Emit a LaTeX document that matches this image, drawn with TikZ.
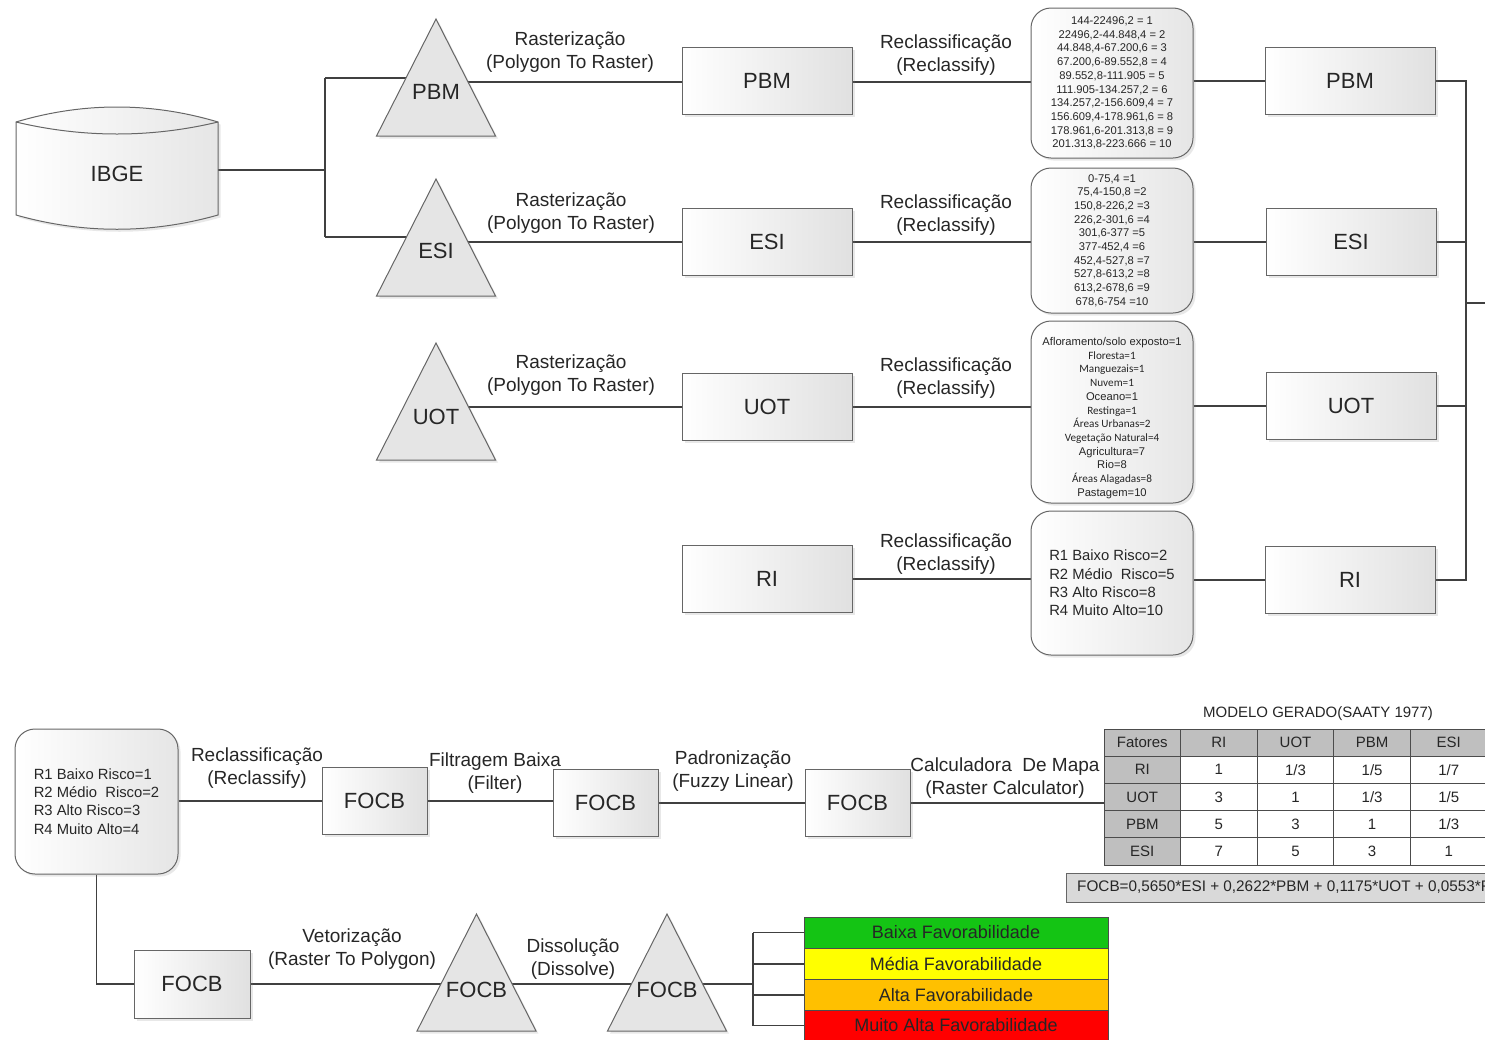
\documentclass[tikz,border=0pt]{standalone}
\usepackage{fontspec}
\setmainfont{Liberation Sans}
\newfontfamily\carl{Carlito}
\usetikzlibrary{shadows,backgrounds}
\definecolor{lgreen}{RGB}{20,196,20}
\definecolor{lyellow}{RGB}{255,255,0}
\definecolor{lorange}{RGB}{255,192,0}
\definecolor{lred}{RGB}{255,0,0}
\begin{document}
\begin{tikzpicture}[x=1pt,y=-1pt,
  dshadow/.style={drop shadow={shadow xshift=2.5pt,shadow yshift=-2.5pt,opacity=0.18}},
  line/.style={draw=black!75,line width=1.1pt},
  box/.style={draw=black!60,line width=1pt,left color=white,right color=black!12,dshadow,
    minimum width=170pt,minimum height=67pt,inner sep=0pt,font=\fontsize{22}{26}\selectfont,text=black!85},
  fbox/.style={box,minimum width=105pt},
  rnd/.style={draw=black!60,line width=1pt,rounded corners=20pt,left color=white,right color=black!10,
    dshadow,inner sep=0pt,align=center,text=black!85},
  small/.style={font=\fontsize{11.2}{13.7}\selectfont},
  mid/.style={font=\fontsize{14.8}{18.3}\selectfont},
  tri/.style={draw=black!60,line width=1pt,fill=black!10,dshadow},
  cyl/.style={draw=black!60,line width=1pt,left color=white,right color=black!10,dshadow},
  lbl/.style={align=center,font=\fontsize{19}{23}\selectfont,text=black!85,inner sep=0pt,yshift=-3pt},
  big/.style={font=\fontsize{22}{26}\selectfont,text=black!85,inner sep=0pt},
  hd/.style={draw=black!70,line width=0.9pt,fill=black!25,minimum width=76.6pt,minimum height=27.2pt,
    inner sep=0pt,font=\fontsize{15}{18}\selectfont,text=black!85},
  bd/.style={hd,fill=white},
  lg/.style={draw=black!70,line width=0.9pt,minimum width=304pt,minimum height=31pt,inner sep=0pt,
    font=\fontsize{18}{21}\selectfont,text=black!85},
]
\useasboundingbox (0,0) rectangle (1485,1039);
\clip (0,0) rectangle (1485,1039);

% ---------- IBGE cylinder ----------
\path[cyl] (16,122) .. controls (83,102) and (151,102) .. (218,122) -- (218,215)
  .. controls (151,234) and (83,234) .. (16,215) -- cycle;
\draw[draw=black!60,line width=1pt] (16,122) .. controls (83,138) and (151,138) .. (218,122);
\node[big] (ibge) at (117,174) {IBGE};
\coordinate (ibgeE) at (218,170);
\coordinate (lj) at (325,170);
\coordinate (ljt) at (325,78);
\coordinate (ljb) at (325,237);

% ---------- triangles ----------
\newcommand\mytri[2]{\path[tri] (#1,#2) -- ++(-59.5,117) -- ++(119,0) -- cycle;}
\mytri{436}{19}
\mytri{436}{179}
\mytri{436}{343}
\mytri{476.5}{914}
\mytri{667}{914}
\node[big] (tPBM) at (436,92) {PBM};
\node[big] (tESI) at (436,251) {ESI};
\node[big] (tUOT) at (436,417) {UOT};
\node[big] (tF1) at (476.5,990) {FOCB};
\node[big] (tF2) at (667,990) {FOCB};
\coordinate (tPBMl) at (436,78);
\coordinate (tPBMr) at (436,82);
\coordinate (tESIl) at (436,237);
\coordinate (tESIr) at (436,242);
\coordinate (tUOTr) at (436,407);
\coordinate (tF1c) at (476.5,984);
\coordinate (tF2c) at (667,984);

% ---------- boxes ----------
\node[box] (bPBM) at (767,81) {PBM};
\node[box] (bESI) at (767,242) {ESI};
\node[box] (bUOT) at (767,407) {UOT};
\node[box] (bRI) at (767,579) {RI};

\node[box] (rbPBM) at (1350,81) {PBM};
\node[box] (rbESI) at (1351,242) {ESI};
\node[box] (rbUOT) at (1351,406) {UOT};
\node[box] (rbRI) at (1350,580) {RI};

\node[rnd,small,minimum width=162pt,minimum height=150pt] (rPBM) at (1112,83)
 {144-22496,2 = 1\\22496,2-44.848,4 = 2\\44.848,4-67.200,6 = 3\\67.200,6-89.552,8 = 4\\89.552,8-111.905 = 5\\111.905-134.257,2 = 6\\134.257,2-156.609,4 = 7\\156.609,4-178.961,6 = 8\\178.961,6-201.313,8 = 9\\201.313,8-223.666 = 10};
\node[rnd,small,minimum width=162pt,minimum height=145pt] (rESI) at (1112,240.5)
 {0-75,4 =1\\75,4-150,8 =2\\150,8-226,2 =3\\226,2-301,6 =4\\301,6-377 =5\\377-452,4 =6\\452,4-527,8 =7\\527,8-613,2 =8\\613,2-678,6 =9\\678,6-754 =10};
\node[rnd,minimum width=162pt,minimum height=182pt] (rUOT) at (1112,412) {};
\node[small,align=center,inner sep=0pt,text=black!85] (rUOTt) at (1112,418)
 {Afloramento/solo exposto=1\\{\carl Floresta=1}\\{\carl Manguezais=1}\\{\carl Nuvem=1}\\Oceano=1\\{\carl Restinga=1}\\{\carl Áreas Urbanas=2}\\{\carl Vegetação Natural=4}\\Agricultura=7\\Rio=8\\{\carl Áreas Alagadas=8}\\Pastagem=10};
\node[rnd,mid,align=left,minimum width=162pt,minimum height=144pt] (rRI) at (1112,583)
 {R1 Baixo Risco=2\\R2 Médio\ \ Risco=5\\R3 Alto Risco=8\\R4 Muito Alto=10};

% ---------- bottom chain ----------
\node[rnd,mid,align=left,minimum width=163pt,minimum height=145pt] (rBot) at (96.5,801.5)
 {R1 Baixo Risco=1\\R2 Médio\ \ Risco=2\\R3 Alto Risco=3\\R4 Muito Alto=4};
\node[fbox] (fb1) at (374.5,801) {FOCB};
\node[fbox] (fb2) at (605.5,803) {FOCB};
\node[fbox] (fb3) at (857.5,803) {FOCB};
\node[fbox,minimum width=116pt,minimum height=68pt] (fb4) at (192,984) {FOCB};

% ---------- labels ----------
\node[lbl] (lr1) at (570,49.5) {Rasterização\\(Polygon To Raster)};
\node[lbl] (lc1) at (946,52.5) {Reclassificação\\(Reclassify)};
\node[lbl] (lr2) at (571,210.5) {Rasterização\\(Polygon To Raster)};
\node[lbl] (lc2) at (946,212) {Reclassificação\\(Reclassify)};
\node[lbl] (lr3) at (571,372.5) {Rasterização\\(Polygon To Raster)};
\node[lbl] (lc3) at (946,375.5) {Reclassificação\\(Reclassify)};
\node[lbl] (lc4) at (946,551) {Reclassificação\\(Reclassify)};
\node[lbl] (lb1) at (257,765.5) {Reclassificação\\(Reclassify)};
\node[lbl] (lb2) at (495,770.5) {Filtragem Baixa\\(Filter)};
\node[lbl] (lb3) at (733,768.5) {Padronização\\(Fuzzy Linear)};
\node[lbl] (lb4) at (1005,775.5) {Calculadora\ \ De Mapa\\(Raster Calculator)};
\node[lbl] (lb5) at (352,946.5) {Vetorização\\(Raster To Polygon)};
\node[lbl] (lb6) at (573,956.5) {Dissolução\\(Dissolve)};

% ---------- table ----------
\node[font=\fontsize{15}{18}\selectfont,text=black!85,inner sep=0pt] (ttl) at (1318,714) {MODELO GERADO(SAATY 1977)};
\foreach \r/\c/\s/\t in {0/0/hd/Fatores,0/1/hd/RI,0/2/hd/UOT,0/3/hd/PBM,0/4/hd/ESI,
  1/0/hd/RI,1/1/bd/1,1/2/bd/{1/3},1/3/bd/{1/5},1/4/bd/{1/7},
  2/0/hd/UOT,2/1/bd/3,2/2/bd/1,2/3/bd/{1/3},2/4/bd/{1/5},
  3/0/hd/PBM,3/1/bd/5,3/2/bd/3,3/3/bd/1,3/4/bd/{1/3},
  4/0/hd/ESI,4/1/bd/7,4/2/bd/5,4/3/bd/3,4/4/bd/1}
  \node[\s] (cell\r\c) at ({1104+76.6*(\c+0.5)},{729+27.2*(\r+0.5)}) {\t};
\coordinate (tblW) at (1104,803);

% ---------- formula ----------
\path[draw=black!60,line width=1pt,fill=black!15] (1066,873) rectangle (1500,902);
\node[anchor=west,inner sep=0pt,font=\fontsize{15.3}{18}\selectfont,text=black!85] (formula) at (1077,887.5)
 {FOCB=0,5650*ESI + 0,2622*PBM + 0,1175*UOT + 0,0553*RI};

% ---------- legend ----------
\node[lg,fill=lgreen] (lg1) at (956,932.5) {Baixa Favorabilidade};
\node[lg,fill=lyellow] (lg2) at (956,964) {Média Favorabilidade};
\node[lg,fill=lorange] (lg3) at (956,995) {Alta Favorabilidade};
\node[lg,fill=lred] (lg4) at (956,1025.5) {Muito Alta Favorabilidade};
\coordinate (lgj) at (753,984);

\coordinate (rj) at (1466,303);
\coordinate (rout) at (1485,303);

% ---------- connectors ----------
\begin{pgfonlayer}{background}
\draw[line] (ibgeE) -- (lj);
\draw[line] (ljt) -- (ljb);
\draw[line] (ljt) -- (tPBMl);
\draw[line] (ljb) -- (tESIl);
\draw[line] (tPBMr) -- (bPBM.west |- tPBMr);
\draw[line] (tESIr) -- (bESI.west |- tESIr);
\draw[line] (tUOTr) -- (bUOT.west |- tUOTr);
\draw[line] (bPBM.east |- tPBMr) -- (rPBM.west |- tPBMr);
\draw[line] (bESI.east) -- (bESI.east -| rESI.west);
\draw[line] (bUOT.east) -- (bUOT.east -| rUOT.west);
\draw[line] (bRI.east) -- (bRI.east -| rRI.west);
\draw[line] (rPBM.east |- rbPBM.west) -- (rbPBM.west);
\draw[line] (rESI.east |- rbESI.west) -- (rbESI.west);
\draw[line] (rUOT.east |- rbUOT.west) -- (rbUOT.west);
\draw[line] (rRI.east |- rbRI.west) -- (rbRI.west);
\draw[line] (rbPBM.east) -- (rbPBM.east -| rj) -- (rbRI.east -| rj) -- (rbRI.east);
\draw[line] (rbESI.east) -- (rbESI.east -| rj);
\draw[line] (rbUOT.east) -- (rbUOT.east -| rj);
\draw[line] (rj) -- (rout);
\draw[line] (rBot.east |- fb1.west) -- (fb1.west);
\draw[line] (fb1.east) -- (fb1.east -| fb2.west);
\draw[line] (fb2.east) -- (fb2.east -| fb3.west);
\draw[line] (fb3.east) -- (fb3.east -| tblW);
\draw[line] (rBot.south) |- (fb4.west);
\draw[line] (fb4.east) -- (tF1c) -- (tF2c) -- (lgj);
\draw[line] (lg1.west -| lgj) -- (lg4.west -| lgj);
\draw[line] (lg1.west -| lgj) -- (lg1.west);
\draw[line] (lg2.west -| lgj) -- (lg2.west);
\draw[line] (lg3.west -| lgj) -- (lg3.west);
\draw[line] (lg4.west -| lgj) -- (lg4.west);
\end{pgfonlayer}
\end{tikzpicture}
\end{document}
